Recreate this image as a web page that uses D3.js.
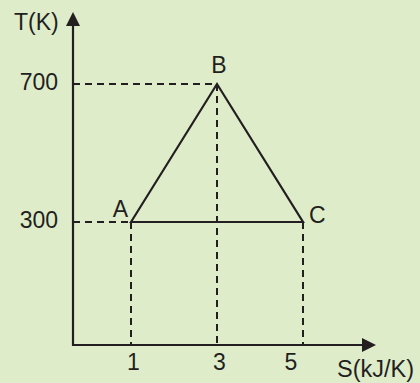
<!DOCTYPE html>
<html>
<head>
<meta charset="utf-8">
<script src="https://cdn.jsdelivr.net/npm/d3@7"></script>
<style>
  html, body { margin: 0; padding: 0; background: #deecca; }
  svg { display: block; }
  text { font-family: "Liberation Sans", Arial, sans-serif; fill: #231f20; }
</style>
</head>
<body>
<svg id="chart" width="420" height="383"></svg>
<script>
// cycle on the T-S diagram
const points = ['A', 'B', 'C'];
const entropy = [1, 3, 5];          // S (kJ/K)
const temperature = [300, 700, 300]; // T (K)
const xTicks = [1, 3, 5];
const yTicks = [300, 700];

const ink = '#231f20';
const svg = d3.select('#chart');
const width = 420, height = 383;

// axis origin in pixels
const originX = 73;
const originY = 345;

const x = d3.scaleLinear()
  .domain([1, 5])
  .range([131, 303]);

const y = d3.scaleLinear()
  .domain([300, 700])
  .range([222, 84]);

const data = points.map((name, i) => ({ name, s: entropy[i], t: temperature[i] }));

svg.append('rect')
  .attr('width', width)
  .attr('height', height)
  .attr('fill', '#deecca');

// dashed guides
const guides = svg.append('g')
  .attr('stroke', ink)
  .attr('stroke-width', 2)
  .attr('stroke-dasharray', '7,5')
  .attr('fill', 'none');

data.forEach(d => {
  guides.append('line')
    .attr('x1', x(d.s)).attr('x2', x(d.s))
    .attr('y1', y(d.t)).attr('y2', originY);
});

data.filter(d => d.s <= 3).forEach(d => {
  guides.append('line')
    .attr('x1', originX).attr('x2', x(d.s))
    .attr('y1', y(d.t)).attr('y2', y(d.t));
});

// triangle cycle
svg.append('path')
  .datum(data)
  .attr('d', d3.line().x(d => x(d.s)).y(d => y(d.t)).curve(d3.curveLinearClosed))
  .attr('fill', 'none')
  .attr('stroke', ink)
  .attr('stroke-width', 2.2)
  .attr('stroke-linejoin', 'miter');

// axes
svg.append('line')
  .attr('x1', originX).attr('x2', originX)
  .attr('y1', 22).attr('y2', originY + 1)
  .attr('stroke', ink).attr('stroke-width', 2.2);

svg.append('line')
  .attr('x1', originX - 1).attr('x2', 366)
  .attr('y1', originY).attr('y2', originY)
  .attr('stroke', ink).attr('stroke-width', 2.2);

svg.append('path')
  .attr('d', `M${originX},12L${originX + 7},26L${originX - 7},26Z`)
  .attr('fill', ink);

svg.append('path')
  .attr('d', `M376,${originY}L362,${originY - 7}L362,${originY + 7}Z`)
  .attr('fill', ink);

// tick labels
const xAxis = d3.axisBottom(x)
  .tickValues(xTicks)
  .tickFormat(d3.format('d'))
  .tickSize(0)
  .tickPadding(9);

const gx = svg.append('g')
  .attr('transform', `translate(0,${originY})`)
  .call(xAxis);
gx.select('.domain').remove();
gx.selectAll('text')
  .attr('font-size', 23)
  .attr('font-family', null)
  .attr('dx', d => d === 5 ? '-0.55em' : '0.08em')
  .style('fill', ink);

const yAxis = d3.axisLeft(y)
  .tickValues(yTicks)
  .tickFormat(d3.format('d'))
  .tickSize(0)
  .tickPadding(15);

const gy = svg.append('g')
  .attr('transform', `translate(${originX},0)`)
  .call(yAxis);
gy.select('.domain').remove();
gy.selectAll('text')
  .attr('font-size', 23)
  .attr('font-family', null)
  .attr('dy', '0.25em')
  .style('fill', ink);

// axis titles
svg.append('text')
  .attr('x', 14).attr('y', 30)
  .attr('font-size', 23)
  .text('T(K)');

svg.append('text')
  .attr('x', 337).attr('y', 377)
  .attr('font-size', 23.5)
  .text('S(kJ/K)');

// point labels
const labelPos = {
  A: { dx: -3, dy: -5, anchor: 'end' },
  B: { dx: 2, dy: -11, anchor: 'middle' },
  C: { dx: 6, dy: 1, anchor: 'start' }
};

svg.append('g')
  .selectAll('text')
  .data(data)
  .enter().append('text')
  .attr('x', d => x(d.s) + labelPos[d.name].dx)
  .attr('y', d => y(d.t) + labelPos[d.name].dy)
  .attr('text-anchor', d => labelPos[d.name].anchor)
  .attr('font-size', 23)
  .text(d => d.name);
</script>
</body>
</html>
